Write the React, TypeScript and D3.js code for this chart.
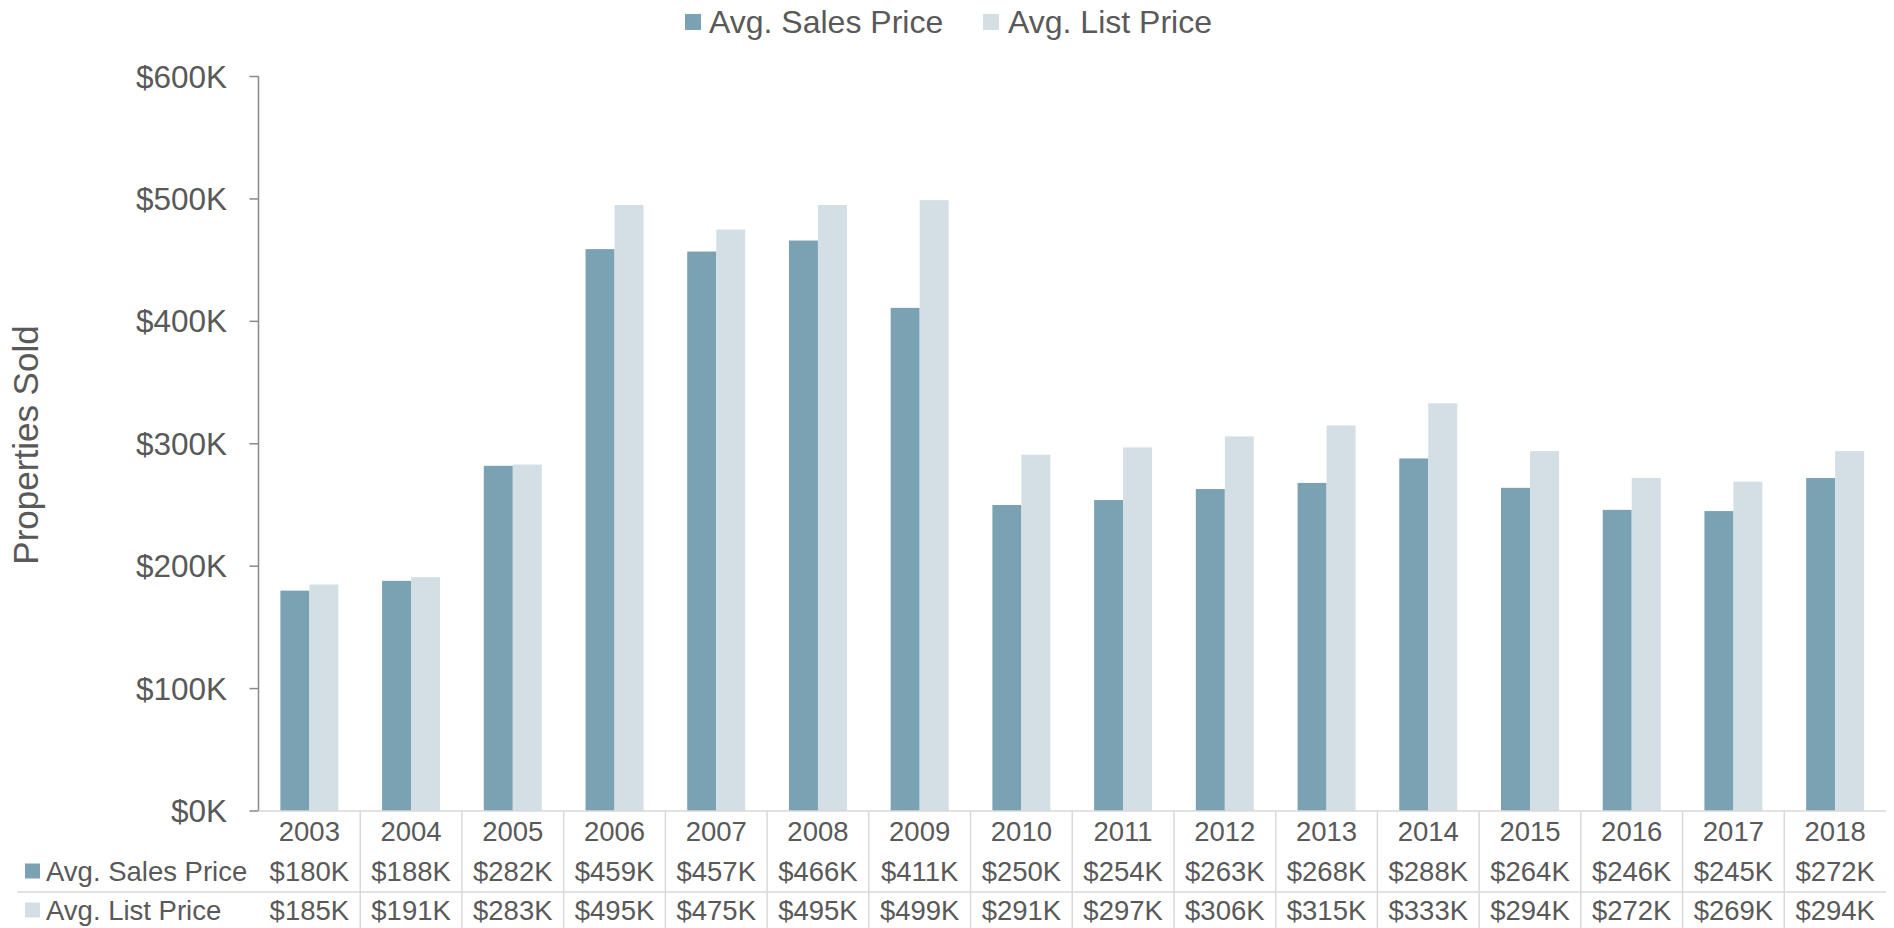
import React from "react";
import * as d3 from "d3";

const years = ["2003","2004","2005","2006","2007","2008","2009","2010","2011","2012","2013","2014","2015","2016","2017","2018"];
const salesPrice = [180,188,282,459,457,466,411,250,254,263,268,288,264,246,245,272];
const listPrice = [185,191,283,495,475,495,499,291,297,306,315,333,294,272,269,294];
const yTicks = [0,100,200,300,400,500,600];
const seriesNames = ["Avg. Sales Price","Avg. List Price"];
const seriesColors = ["#7AA2B3","#D3DFE5"];

const W = 1894, H = 928;
const plotLeft = 258.5, plotRight = 1886, plotTop = 76.5, plotBottom = 811;
const FONT = "'Liberation Sans', Arial, sans-serif";
const TXT = "#595959";

export default function App() {
  const x = d3.scaleBand<string>().domain(years).range([plotLeft, plotRight]).paddingInner(0).paddingOuter(0);
  const xs = d3.scaleBand<string>().domain(["s","l"]).range([0, x.bandwidth()]).paddingInner(0).paddingOuter(0.754);
  const y = d3.scaleLinear().domain([0, 600]).range([plotBottom, plotTop]);
  const fmt = (v: number) => `$${v}K`;
  const series = [salesPrice, listPrice];
  const rowY = [871, 910];

  return (
    <svg width={W} height={H} style={{ position: "absolute", left: 0, top: 0, display: "block", background: "#fff" }} fontFamily={FONT}>
      {/* Legend */}
      <g>
        <rect x={685} y={14} width={16} height={16} fill={seriesColors[0]} />
        <text x={709} y={22} dy="0.35em" fontSize={32} fill={TXT}>{seriesNames[0]}</text>
        <rect x={983} y={14} width={16} height={16} fill={seriesColors[1]} />
        <text x={1008} y={22} dy="0.35em" fontSize={32} fill={TXT}>{seriesNames[1]}</text>
      </g>

      {/* Axis title */}
      <text transform={`translate(26,${445}) rotate(-90)`} textAnchor="middle" dy="0.35em" fontSize={35} fill={TXT}>Properties Sold</text>

      {/* Y axis */}
      <line x1={plotLeft} x2={plotLeft} y1={plotTop} y2={plotBottom} stroke="#898989" strokeWidth={1.5} />
      {yTicks.map((t) => (
        <g key={t}>
          <line x1={plotLeft - 9} x2={plotLeft} y1={y(t)} y2={y(t)} stroke="#898989" strokeWidth={1.5} />
          <text x={227} y={y(t)} dy="0.35em" textAnchor="end" fontSize={31.5} fill={TXT}>{fmt(t)}</text>
        </g>
      ))}

      {/* Bars */}
      {years.map((yr, i) => (
        <g key={yr}>
          <rect x={x(yr)! + xs("s")!} y={y(salesPrice[i])} width={xs.bandwidth()} height={plotBottom - y(salesPrice[i])} fill={seriesColors[0]} />
          <rect x={x(yr)! + xs("l")!} y={y(listPrice[i])} width={xs.bandwidth()} height={plotBottom - y(listPrice[i])} fill={seriesColors[1]} />
        </g>
      ))}

      {/* Table grid */}
      {years.slice(1).map((yr) => (
        <line key={"v" + yr} x1={x(yr)} x2={x(yr)} y1={plotBottom} y2={H} stroke="#D9D9D9" strokeWidth={1.5} />
      ))}
      <line x1={17} x2={plotRight} y1={892} y2={892} stroke="#D9D9D9" strokeWidth={1.5} />
      <line x1={plotLeft} x2={plotRight} y1={plotBottom} y2={plotBottom} stroke="#D9D9D9" strokeWidth={1.5} />

      {/* Table text */}
      {years.map((yr) => (
        <text key={"y" + yr} x={x(yr)! + x.bandwidth() / 2} y={831} dy="0.35em" textAnchor="middle" fontSize={27.5} fill={TXT}>{yr}</text>
      ))}
      {series.map((vals, si) => (
        <g key={"row" + si}>
          <rect x={25} y={rowY[si] - 7.5} width={15} height={15} fill={seriesColors[si]} />
          <text x={46} y={rowY[si]} dy="0.35em" fontSize={27.5} fill={TXT}>{seriesNames[si]}</text>
          {years.map((yr, i) => (
            <text key={yr} x={x(yr)! + x.bandwidth() / 2} y={rowY[si]} dy="0.35em" textAnchor="middle" fontSize={27.5} fill={TXT}>{fmt(vals[i])}</text>
          ))}
        </g>
      ))}
    </svg>
  );
}
